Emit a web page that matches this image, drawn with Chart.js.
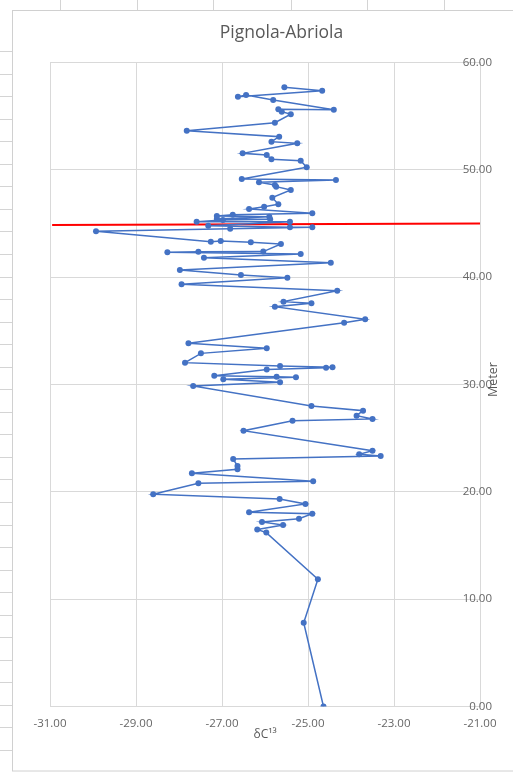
<!DOCTYPE html>
<html>
<head>
<meta charset="utf-8">
<title>Pignola-Abriola</title>
<script src="https://cdn.jsdelivr.net/npm/chart.js@4.4.1/dist/chart.umd.min.js"></script>
<style>
  html, body { margin: 0; padding: 0; background: #fff; }
  #chart { display: block; }
</style>
</head>
<body>
<canvas id="chart" width="513" height="772"></canvas>
<script>
// δC13 measurements along the section, listed bottom to top (metres)
const meters = [
  0.00, 7.80, 11.85, 16.20, 16.50, 16.90, 17.20, 17.50, 17.96, 18.10,
  18.87, 19.33, 19.77, 20.80, 20.98, 21.73, 22.10, 22.40, 23.06, 23.34,
  23.50, 23.83, 25.70, 26.63, 26.79, 27.10, 27.56, 28.00, 29.86, 30.20,
  30.48, 30.67, 30.73, 30.82, 31.40, 31.57, 31.60, 31.72, 32.03, 32.90,
  33.37, 33.84, 35.76, 36.07, 37.25, 37.57, 37.72, 38.74, 39.35, 39.95,
  40.20, 40.67, 41.35, 41.82, 42.16, 42.33, 42.36, 42.38, 43.09, 43.25,
  43.37, 43.30, 44.27, 44.52, 44.65, 44.65, 44.80, 45.17, 45.17, 45.33,
  45.39, 45.42, 45.64, 45.70, 45.82, 45.95, 46.35, 46.57, 46.79, 47.41,
  48.12, 48.43, 48.59, 48.84, 49.05, 49.15, 50.24, 50.85, 50.98, 51.38,
  51.54, 52.47, 52.62, 53.09, 53.65, 54.39, 55.18, 55.42, 55.64, 55.60,
  56.51, 56.97, 56.81, 57.37, 57.69
];
const deltaC13 = [
  -24.64, -25.10, -24.77, -25.97, -26.18, -25.58, -26.07, -25.21, -24.90, -26.37,
  -25.06, -25.66, -28.60, -27.55, -24.88, -27.70, -26.64, -26.64, -26.74, -23.31,
  -23.81, -23.50, -26.50, -25.36, -23.50, -23.87, -23.72, -24.92, -27.67, -25.65,
  -26.97, -25.28, -25.73, -27.18, -25.96, -24.58, -24.43, -25.65, -27.86, -27.49,
  -25.96, -27.78, -24.16, -23.67, -25.77, -24.92, -25.57, -24.32, -27.94, -25.48,
  -26.56, -27.98, -24.47, -27.42, -25.17, -28.27, -27.55, -26.04, -25.63, -26.33,
  -27.03, -27.26, -29.93, -26.81, -24.90, -25.42, -27.32, -25.42, -27.59, -26.98,
  -25.88, -27.12, -25.90, -27.12, -26.75, -24.90, -26.37, -26.02, -25.69, -25.83,
  -25.40, -25.74, -25.77, -26.14, -24.35, -26.54, -25.03, -25.17, -25.85, -25.96,
  -26.52, -25.25, -25.85, -25.67, -27.82, -25.77, -25.40, -25.61, -25.69, -24.40,
  -25.81, -26.44, -26.63, -24.67, -25.55
];

// marker line across the section
const markerX = [-30.95, -21.00];
const markerY = [44.85, 45.00];

// axis ranges and tick spacing
const xRange = [-31, -21];
const xStep = 2;
const yRange = [0, 60];
const yStep = 10;

const seriesPoints = meters.map((m, i) => ({ x: deltaC13[i], y: m }));
const markerPoints = markerX.map((x, i) => ({ x: x, y: markerY[i] }));

const FONT = "'Open Sans', 'Noto Sans', 'DejaVu Sans', sans-serif";
const GRID = '#d9d9d9';

// worksheet cells behind the chart object, and the chart object frame
const sheetBackground = {
  id: 'sheetBackground',
  beforeDraw(chart) {
    const ctx = chart.ctx;
    const W = chart.width, H = chart.height;
    ctx.save();
    ctx.fillStyle = '#ffffff';
    ctx.fillRect(0, 0, W, H);
    ctx.strokeStyle = '#d4d4d4';
    ctx.lineWidth = 1;
    // column separators above the frame
    [60, 137, 213, 291, 367, 444].forEach(x => {
      ctx.beginPath();
      ctx.moveTo(x + 0.5, 0);
      ctx.lineTo(x + 0.5, 10);
      ctx.stroke();
    });
    // row separators left of the frame
    for (let y = 51; y < H; y += 22.55) {
      const yy = Math.round(y) + 0.5;
      ctx.beginPath();
      ctx.moveTo(0, yy);
      ctx.lineTo(12, yy);
      ctx.stroke();
    }
    // frame
    ctx.strokeStyle = '#d0d0d0';
    ctx.strokeRect(12.5, 10.5, W + 20, 760.5);
    ctx.restore();
  }
};

// vertical axis title, reading bottom to top
const verticalTitle = {
  id: 'verticalTitle',
  afterDraw(chart) {
    const ctx = chart.ctx;
    const area = chart.chartArea;
    ctx.save();
    ctx.translate(493.5, (area.top + area.bottom) / 2 - 5);
    ctx.rotate(-Math.PI / 2);
    ctx.font = '12.5px ' + FONT;
    ctx.fillStyle = '#595959';
    ctx.textAlign = 'center';
    ctx.textBaseline = 'middle';
    ctx.fillText('Meter', 0, 0);
    ctx.restore();
  }
};

new Chart(document.getElementById('chart'), {
  type: 'scatter',
  data: {
    datasets: [
      {
        label: 'δC13',
        data: seriesPoints,
        showLine: true,
        borderColor: '#4472C4',
        backgroundColor: '#4472C4',
        borderWidth: 1.5,
        pointRadius: 3,
        pointHoverRadius: 3,
        pointBorderWidth: 0,
        tension: 0
      },
      {
        label: 'marker',
        data: markerPoints,
        showLine: true,
        borderColor: '#ff0000',
        backgroundColor: '#ff0000',
        borderWidth: 2,
        pointRadius: 0,
        tension: 0
      }
    ]
  },
  options: {
    responsive: false,
    devicePixelRatio: 1,
    animation: false,
    layout: { padding: { left: 50, right: 0, top: 0, bottom: 0 } },
    plugins: {
      legend: { display: false },
      tooltip: { enabled: false },
      title: {
        display: true,
        text: 'Pignola-Abriola',
        color: '#595959',
        font: { family: FONT, size: 17.5, weight: 'normal', lineHeight: 1.2 },
        padding: { top: 22.5, bottom: 19 }
      }
    },
    scales: {
      x: {
        type: 'linear',
        position: 'bottom',
        min: xRange[0],
        max: xRange[1],
        afterFit(scale) { scale.height = 65.5; },
        ticks: {
          stepSize: xStep,
          color: '#666666',
          font: { family: FONT, size: 11.5 },
          padding: 10,
          callback: v => v.toFixed(2)
        },
        grid: { color: GRID, drawTicks: false },
        border: { color: GRID },
        title: {
          display: true,
          text: 'δC¹³',
          color: '#595959',
          font: { family: FONT, size: 12, lineHeight: 1.2 },
          padding: { top: 0, bottom: 29.8 }
        }
      },
      y: {
        type: 'linear',
        position: 'right',
        min: yRange[0],
        max: yRange[1],
        afterFit(scale) { scale.width = 33; },
        ticks: {
          stepSize: yStep,
          mirror: true,
          padding: 12,
          color: '#666666',
          font: { family: FONT, size: 11.5 },
          callback: v => v.toFixed(2)
        },
        grid: { color: GRID, drawTicks: false },
        border: { color: GRID }
      }
    }
  },
  plugins: [sheetBackground, verticalTitle]
});
</script>
</body>
</html>
